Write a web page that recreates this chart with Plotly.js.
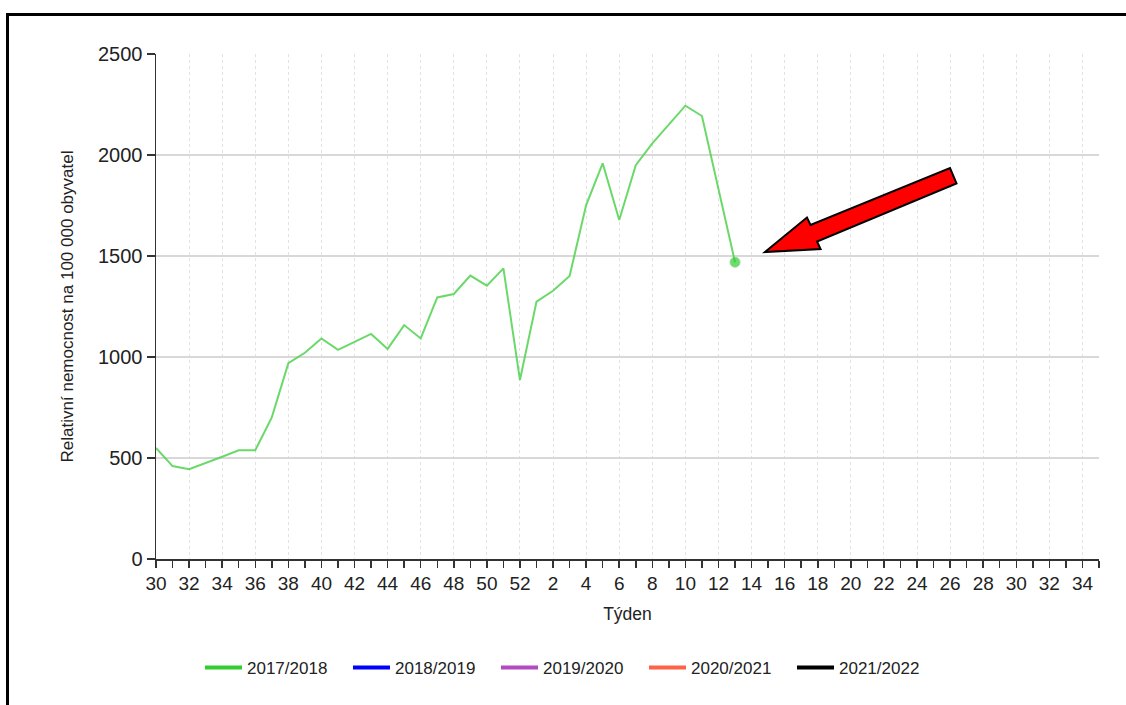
<!DOCTYPE html>
<html>
<head>
<meta charset="utf-8">
<script src="https://cdn.plot.ly/plotly-3.0.1.min.js"></script>
<style>
  html, body { margin: 0; padding: 0; background: #fff; }
  #wrap { position: relative; width: 1126px; height: 705px; overflow: hidden; }
  #chart { width: 1126px; height: 705px; }
  #frame { position: absolute; left: 6px; top: 13px; width: 1300px; height: 900px;
           border-left: 3px solid #000; border-top: 3px solid #000; pointer-events: none; }
</style>
</head>
<body>
<div id="wrap">
  <div id="chart"></div>
  <div id="frame"></div>
</div>
<script>
// Week labels along the x axis (season runs from week 30 to week 35 of next year)
const weeks = [30,31,32,33,34,35,36,37,38,39,40,41,42,43,44,45,46,47,48,49,50,51,52,
               1,2,3,4,5,6,7,8,9,10,11,12,13,14,15,16,17,18,19,20,21,22,23,24,25,26,27,28,29,30,31,32,33,34,35];

// Series names and colours
const seasons = ["2017/2018","2018/2019","2019/2020","2020/2021","2021/2022"];
const seasonColors = ["#33cc33","#0000ff","#b24bc0","#ff6347","#000000"];

// Relative morbidity per 100 000 inhabitants (2017/2018, weeks 30 .. 13)
const s2017 = [550,460,444,474,506,538,538,701,969,1021,1092,1035,1076,1114,1040,1158,1092,
               1295,1312,1403,1353,1439,886,1274,1328,1401,1752,1959,1678,1950,2058,2149,2244,2193,1830,1469];
const s2018 = [];
const s2019 = [];
const s2020 = [];
const s2021 = [];
const seriesValues = [s2017, s2018, s2019, s2020, s2021];

const pos = weeks.map((w, i) => i);
const tickPos = pos.filter(i => i % 2 === 0);
const tickText = tickPos.map(i => String(weeks[i]));

const traces = [];
seriesValues.forEach((vals, k) => {
  if (vals.length) {
    traces.push({
      type: 'scatter', mode: 'lines+markers',
      x: pos.slice(0, vals.length), y: vals,
      line: { color: 'rgba(80,210,80,0.85)', width: 2 },
      marker: { color: '#33cc33', size: vals.map((v, i) => i === vals.length - 1 ? 10 : 0) },
      showlegend: false, hoverinfo: 'skip'
    });
  }
  // legend entry
  traces.push({
    type: 'scatter', mode: 'lines', x: [null], y: [null], name: seasons[k],
    line: { color: seasonColors[k], width: 4 }, showlegend: true
  });
});

// plot area in pixels
const L = 156, R = 1099, T = 54, B = 559;
const px = x => (x - L) / (R - L);
const py = y => (B - y) / (B - T);
const arrowPts = [[765,252],[807,217.5],[810.5,225],[950,168],[956.5,183.5],[817,241.5],[820.5,249]];
const arrowPath = 'M ' + arrowPts.map(p => px(p[0]).toFixed(4) + ',' + py(p[1]).toFixed(4)).join(' L ') + ' Z';

const font = "'Liberation Sans', Arial, sans-serif";
const layout = {
  width: 1126, height: 705,
  margin: { l: L, r: 1126 - R, t: T, b: 705 - B, pad: 0, autoexpand: false },
  paper_bgcolor: '#fff', plot_bgcolor: '#fff',
  font: { family: font, color: '#222', size: 17 },
  showlegend: true,
  xaxis: {
    range: [0, weeks.length - 1], tickmode: 'array', tickvals: tickPos, ticktext: tickText,
    showgrid: true, gridcolor: '#e2e2e2', griddash: 'dot', gridwidth: 1,
    showline: true, linecolor: '#333', linewidth: 1.5,
    ticks: 'outside', ticklen: 7, tickcolor: '#333', tickwidth: 1.5,
    minor: { tickmode: 'linear', tick0: 0, dtick: 1, ticks: 'outside', ticklen: 7, tickcolor: '#333', tickwidth: 1.5, showgrid: false },
    tickfont: { size: 19, family: font, color: '#222' },
    title: { text: 'Týden', font: { size: 17.5, family: font, color: '#222' }, standoff: 14 },
    zeroline: false, fixedrange: true, automargin: false
  },
  yaxis: {
    range: [0, 2500], tickvals: [0,500,1000,1500,2000,2500],
    showgrid: true, gridcolor: '#d8d8d8', gridwidth: 1.5,
    showline: true, linecolor: '#333', linewidth: 1.5,
    ticks: 'outside', ticklen: 8, tickcolor: '#333', tickwidth: 1.5,
    tickfont: { size: 20, family: font, color: '#222' },
    title: { text: 'Relativní nemocnost na 100 000 obyvatel', font: { size: 17, family: font, color: '#222' }, standoff: 20 },
    zeroline: false, fixedrange: true, automargin: false
  },
  legend: {
    orientation: 'h', x: px(200), xanchor: 'left', y: py(668), yanchor: 'middle',
    entrywidth: 96, entrywidthmode: 'pixels', itemwidth: 37,
    font: { size: 17, family: font, color: '#222' }, bgcolor: 'rgba(0,0,0,0)'
  },
  shapes: [{
    type: 'path', xref: 'paper', yref: 'paper', path: arrowPath,
    fillcolor: '#ff0000', line: { color: '#000', width: 2 }, layer: 'above'
  }]
};

Plotly.newPlot('chart', traces, layout, { displayModeBar: false, staticPlot: true });
</script>
</body>
</html>
